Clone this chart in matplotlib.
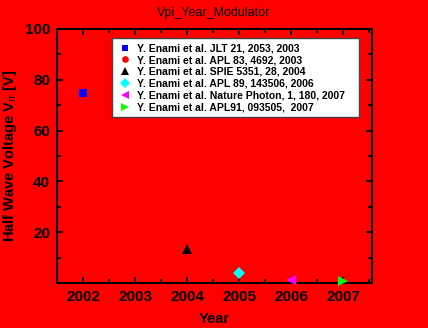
import matplotlib
matplotlib.use("Agg")
import matplotlib.pyplot as plt
from matplotlib.patches import Rectangle
from matplotlib.ticker import MultipleLocator, FixedLocator

plt.rcParams['font.family'] = ['Liberation Sans', 'DejaVu Sans']

# Reported half-wave voltages of EO polymer modulators
labels = [
    "Y. Enami et al. JLT 21, 2053, 2003",
    "Y. Enami et al. APL 83, 4692, 2003",
    "Y. Enami et al. SPIE 5351, 28, 2004",
    "Y. Enami et al. APL 89, 143506, 2006",
    "Y. Enami et al. Nature Photon, 1, 180, 2007",
    "Y. Enami et al. APL91, 093505,  2007",
]
years = [2002, 2003, 2004, 2005, 2006, 2007]
vpi = [75, 30, 13.5, 4, 1, 0.7]
markers = ["s", "o", "^", "D", "<", ">"]
colors = ["#0000ff", "#ff0000", "#000000", "#00ffff", "#ff00ff", "#00ff00"]
sizes = [6, 6, 7, 6, 7, 7]

x_ticks = [2002, 2003, 2004, 2005, 2006, 2007]
y_ticks = [20, 40, 60, 80, 100]

W, H = 428, 328
bg = "#ff0000"
fig = plt.figure(figsize=(W / 100, H / 100), dpi=100, facecolor=bg)
ax = fig.add_axes([57 / W, 1 - 283 / H, 315 / W, 254 / H])
ax.set_facecolor(bg)

for x, y, m, c, s, lab in zip(years, vpi, markers, colors, sizes, labels):
    ax.plot([x], [y], linestyle="none", marker=m, color=c, markersize=s,
            markeredgewidth=0, label=lab, clip_on=False, zorder=3)

ax.set_xlim(2001.5, 2007.55)
ax.set_ylim(0, 100)
ax.xaxis.set_major_locator(FixedLocator(x_ticks))
ax.xaxis.set_minor_locator(MultipleLocator(0.5))
ax.yaxis.set_major_locator(FixedLocator(y_ticks))
ax.yaxis.set_minor_locator(MultipleLocator(10))
ax.set_xticklabels([str(v) for v in x_ticks])
ax.set_yticklabels([str(v) for v in y_ticks])

for sp in ax.spines.values():
    sp.set_linewidth(1.5)
ax.tick_params(which="both", direction="in", top=True, right=True,
               width=1.3, labelsize=11, pad=5)
ax.tick_params(which="major", length=4.5)
ax.tick_params(which="minor", length=3)
for t in ax.get_xticklabels() + ax.get_yticklabels():
    t.set_fontweight("bold")

ax.set_xlabel("Year", fontsize=10.5, fontweight="bold", labelpad=6)
ax.set_ylabel(r"Half Wave Voltage V$_{\pi}$ [V]", fontsize=10.5,
              fontweight="bold", labelpad=4)
fig.text(0.5, 1 - 13 / H, "Vpi_Year_Modulator", ha="center", va="center",
         fontsize=9)

leg = ax.legend(loc="upper left", bbox_to_anchor=((117 - 57) / 315, (283 - 39) / 254),
                prop={"weight": "bold", "size": 7.5}, frameon=False,
                handlelength=0.8, handletextpad=0.7, borderpad=0.4,
                labelspacing=0.18, borderaxespad=0, markerscale=0.8)
leg.set_zorder(6)

# white box behind the legend entries, with a thin dark border
box = Rectangle((112 / W, 1 - 117 / H), (359 - 112) / W, (117 - 38) / H,
                transform=fig.transFigure, facecolor="white",
                edgecolor="#444444", linewidth=1.0, zorder=5)
ax.add_artist(box)

fig.savefig("out.png", dpi=100, facecolor=bg)
